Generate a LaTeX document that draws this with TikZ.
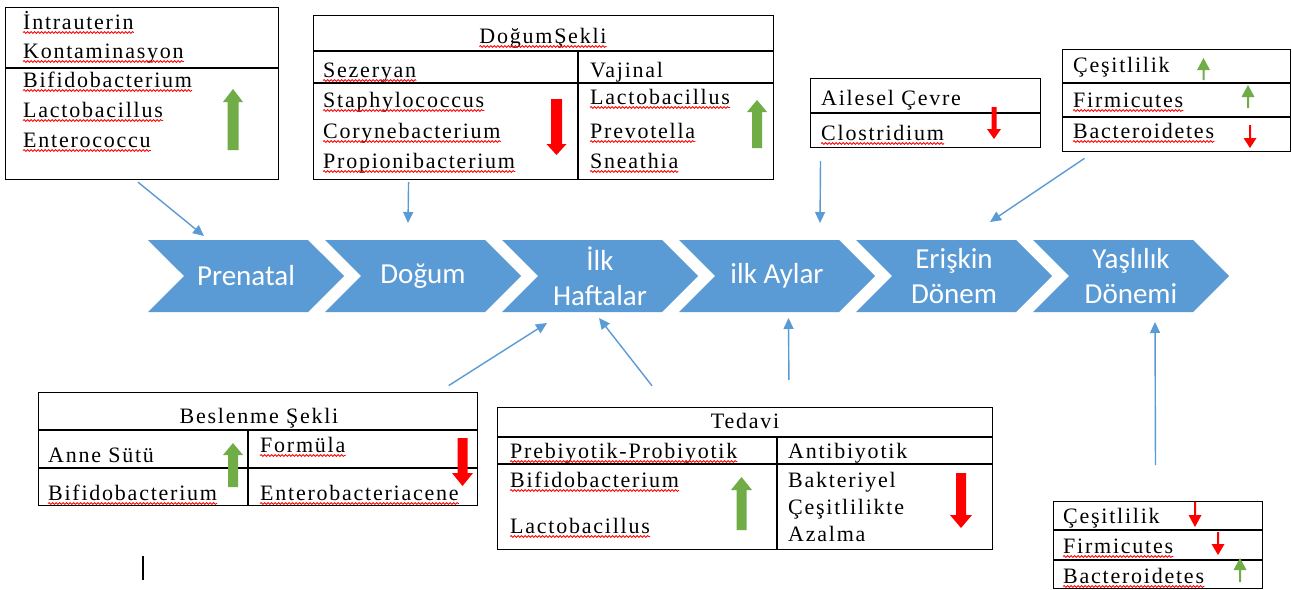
\documentclass[tikz,border=0pt]{standalone}
\usepackage{fontspec}
\setmainfont{Liberation Serif}
\newfontfamily\tablofont[LetterSpace=8]{Liberation Serif}
\newfontfamily\asamafont{Carlito}
\usetikzlibrary{shapes.symbols,arrows.meta,decorations.pathmorphing}
\definecolor{okmavi}{HTML}{5B9BD5}
\definecolor{artis}{HTML}{70AD47}
\definecolor{azalis}{HTML}{FF0000}
% kalin ok: renk, x, kuyruk, bas tabani, uc, yarim govde, yarim bas
\newcommand{\kalinok}[7]{\fill[#1] (#2-#6,#3) -- (#2-#6,#4) -- (#2-#7,#4) -- (#2,#5) -- (#2+#7,#4) -- (#2+#6,#4) -- (#2+#6,#3) -- cycle;}
\tikzset{
  dalga/.style={draw=red,line width=0.8pt,decorate,decoration={snake,amplitude=0.9pt,segment length=3.5pt}},
  imla/.style={append after command={([yshift=-3.5pt]\tikzlastnode.base west) edge[dalga] ([yshift=-3.5pt]\tikzlastnode.base east)}}
}
\begin{document}
\begin{tikzpicture}[x=1pt,y=-1pt,
  tablo/.style={draw,line width=1.2pt,inner sep=0pt,anchor=north west},
  yazi/.style={anchor=base west,inner sep=0pt,font=\tablofont\fontsize{22}{26}\selectfont},
  baslik/.style={yazi,anchor=base},
  asama/.style={signal,signal from=west,signal to=east,signal pointer angle=90,fill=okmavi,text=white,
    minimum width=196pt,minimum height=72pt,inner sep=0pt,align=center,font=\asamafont\fontsize{29}{35}\selectfont},
  ok/.style={draw=okmavi,line width=1.4pt,-{Triangle[length=11pt,width=10pt]}}]
  \fill[white] (0,0) rectangle (1292,589);
  \useasboundingbox (0,0) rectangle (1292,589);

  % asamalar
  \node[asama] (prenatal) at (246,276) {Prenatal};
  \node[asama] (dogum) at (423,276) {Doğum};
  \node[asama] (ilkhafta) at (600,276) {İlk\\Haftalar};
  \node[asama] (ilkay) at (777,276) {ilk Aylar};
  \node[asama] (eriskin) at (954,276) {Erişkin\\Dönem};
  \node[asama] (yasli) at (1131,276) {Yaşlılık\\Dönemi};

  % intrauterin
  \node[tablo,minimum width=273pt,minimum height=172pt] (intra) at (5,7) {};
  \draw[line width=1.2pt] (5,68) -- (278,68);
  \node[yazi,imla] (in1) at (23,29) {İntrauterin};
  \node[yazi,imla] (in2) at (23,58) {Kontaminasyon};
  \node[yazi,imla] (in3) at (23,87) {Bifidobacterium};
  \node[yazi,imla] (in4) at (23,117) {Lactobacillus};
  \node[yazi,imla] (in5) at (23,147) {Enterococcu};
  \kalinok{artis}{233}{150}{102}{89}{5.5}{10}

  % dogum sekli
  \node[tablo,minimum width=460pt,minimum height=164pt] (dsekli) at (313,15) {};
  \draw[line width=1.2pt] (313,51) -- (773,51);
  \draw[line width=1.2pt] (313,83) -- (773,83);
  \draw[line width=1.2pt] (578,51) -- (578,179);
  \node[baslik,imla] (ds0) at (543,43) {DoğumŞekli};
  \node[yazi,imla] (ds1) at (323,77) {Sezeryan};
  \node[yazi] (ds2) at (590,77) {Vajinal};
  \node[yazi,imla] (ds3) at (323,107) {Staphylococcus};
  \node[yazi,imla] (ds4) at (323,138) {Corynebacterium};
  \node[yazi,imla] (ds5) at (323,168) {Propionibacterium};
  \node[yazi,imla] (ds6) at (590,104) {Lactobacillus};
  \node[yazi,imla] (ds7) at (590,138) {Prevotella};
  \node[yazi,imla] (ds8) at (590,168) {Sneathia};
  \kalinok{azalis}{556.5}{99}{144}{155}{5.5}{10}
  \kalinok{artis}{757}{148}{112}{100}{5}{10}

  % ailesel cevre
  \node[tablo,minimum width=230pt,minimum height=69pt] (aile) at (810,78) {};
  \draw[line width=1.2pt] (810,113) -- (1040,113);
  \node[yazi] (ac1) at (821,105) {Ailesel Çevre};
  \node[yazi,imla] (ac2) at (821,140) {Clostridium};
  \kalinok{azalis}{994}{107}{129}{139}{2.5}{7}

  % eriskin
  \node[tablo,minimum width=228pt,minimum height=102pt] (eriskinkutu) at (1062,49) {};
  \draw[line width=1.2pt] (1062,83) -- (1290,83);
  \draw[line width=1.2pt] (1062,117) -- (1290,117);
  \node[yazi] (er1) at (1073,72) {Çeşitlilik};
  \node[yazi,imla] (er2) at (1073,107) {Firmicutes};
  \node[yazi,imla] (er3) at (1073,138) {Bacteroidetes};
  \kalinok{artis}{1203.5}{80}{70}{58}{1}{6.5}
  \kalinok{artis}{1248}{108}{97}{85}{1}{6.5}
  \kalinok{azalis}{1250}{125}{138}{148}{1}{6.5}

  % yaslilik
  \node[tablo,minimum width=209pt,minimum height=86.5pt] (yaslikutu) at (1053,501) {};
  \draw[line width=1.2pt] (1053,530) -- (1262,530);
  \draw[line width=1.2pt] (1053,560) -- (1262,560);
  \node[yazi] (ya1) at (1063,523) {Çeşitlilik};
  \node[yazi,imla] (ya2) at (1063,553) {Firmicutes};
  \node[yazi,imla] (ya3) at (1063,583) {Bacteroidetes};
  \kalinok{azalis}{1195}{502}{515}{527}{1}{6.5}
  \kalinok{azalis}{1218}{532}{544}{555}{1}{6.5}
  \kalinok{artis}{1240}{582}{570}{558}{1}{6.5}

  % beslenme
  \node[tablo,minimum width=439pt,minimum height=113pt] (beslenme) at (38,392) {};
  \draw[line width=1.2pt] (38,430) -- (477,430);
  \draw[line width=1.2pt] (38,468) -- (477,468);
  \draw[line width=1.2pt] (248,430) -- (248,505);
  \node[baslik] (bs0) at (259,423) {Beslenme Şekli};
  \node[yazi] (bs1) at (48,462) {Anne Sütü};
  \node[yazi,imla] (bs2) at (260,452) {Formüla};
  \node[yazi,imla] (bs3) at (48,500) {Bifidobacterium};
  \node[yazi,imla] (bs4) at (260,500) {Enterobacteriacene};
  \kalinok{artis}{233}{487}{455}{443}{5}{10}
  \kalinok{azalis}{462.5}{438}{473}{486}{5}{10.5}

  % tedavi
  \node[tablo,minimum width=495pt,minimum height=142pt] (tedavi) at (497,407) {};
  \draw[line width=1.2pt] (497,437) -- (992,437);
  \draw[line width=1.2pt] (497,464) -- (992,464);
  \draw[line width=1.2pt] (777,437) -- (777,549);
  \node[baslik] (td0) at (745,428) {Tedavi};
  \node[yazi,imla] (td1) at (510,458) {Prebiyotik-Probiyotik};
  \node[yazi] (td2) at (788,458) {Antibiyotik};
  \node[yazi,imla] (td3) at (510,487) {Bifidobacterium};
  \node[yazi,imla] (td4) at (510,533) {Lactobacillus};
  \node[yazi] (td5) at (788,487) {Bakteriyel};
  \node[yazi] (td6) at (788,514) {Çeşitlilikte};
  \node[yazi] (td7) at (788,541) {Azalma};
  \kalinok{artis}{741.5}{530}{490}{477}{5}{10.5}
  \kalinok{azalis}{961}{473}{515}{528}{5}{11}

  % oklar
  \coordinate (u1) at (204,236);
  \coordinate (u2) at (408,223);
  \coordinate (u3) at (820,223);
  \coordinate (u4) at (990,222);
  \coordinate (u5) at (547,323);
  \coordinate (u6) at (599,318);
  \coordinate (u7) at (788.5,318);
  \coordinate (u8) at (1155,322);
  \draw[ok,shorten <=3pt] ([xshift=-6.5pt]intra.south) -- (u1);
  \draw[ok,shorten <=2pt] ([xshift=-135pt]dsekli.south) -- (u2);
  \draw[ok,shorten <=13pt] ([xshift=-105pt]aile.south) -- (u3);
  \draw[ok,shorten <=11pt] ([xshift=-83pt]eriskinkutu.south) -- (u4);
  \draw[ok,shorten <=12pt] ([xshift=180.5pt]beslenme.north) -- (u5);
  \draw[ok,shorten <=27pt] ([xshift=-76.5pt]tedavi.north) -- (u6);
  \draw[ok,shorten <=27pt] ([xshift=44pt]tedavi.north) -- (u7);
  \draw[ok,shorten <=36pt] ([xshift=-2.5pt]yaslikutu.north) -- (u8);

  % imlec
  \draw[line width=1.3pt] (143,556) -- (143,580);
\end{tikzpicture}
\end{document}
